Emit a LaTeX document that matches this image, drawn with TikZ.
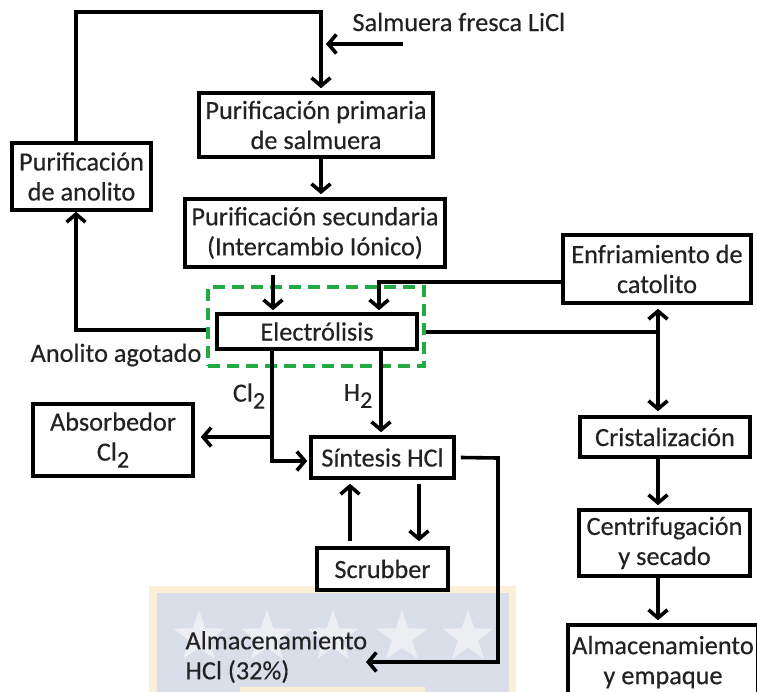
\documentclass[tikz,border=0pt]{standalone}
\usepackage{fontspec}
\setmainfont{Carlito}[FakeBold=0.35]
\usetikzlibrary{arrows.meta,shapes.geometric}
\definecolor{txt}{HTML}{222222}
\definecolor{wmorange}{HTML}{FCEFD8}
\definecolor{wmblue}{HTML}{D9DEE8}
\definecolor{wmstar}{HTML}{ECEEF1}
\definecolor{gdash}{HTML}{22AA44}
\newcommand{\subtwo}{\raisebox{-7pt}{\fontsize{24}{24}\selectfont 2}}
\begin{document}
\begin{tikzpicture}[x=1pt,y=-1pt,
  every node/.style={font=\fontsize{26.3}{30}\selectfont, text=txt},
  box/.style={draw=black, line width=3.6pt, inner sep=0pt, align=center, fill=white},
  arr/.style={line width=3.6pt, -{Straight Barb[length=8pt,width=19pt,line width=3.6pt]}},
  ln/.style={line width=3.6pt},
  gbox/.style={draw=gdash, line width=4pt, dash pattern=on 12pt off 7pt, inner sep=0pt},
  wmstarstyle/.style={star, star points=5, star point ratio=2.5, fill=wmstar, draw=none, minimum size=54pt, inner sep=0pt}
]
\useasboundingbox (0,0) rectangle (757,692);
% watermark
\fill[wmorange] (149,586) rectangle (516,700);
\fill[wmblue] (157,593) rectangle (509,700);
\fill[wmorange] (240,687) rectangle (425,700);
\foreach \sx/\nm in {199/s1,267/s2,333/s3,402/s4,468/s5}
  \node[wmstarstyle] (\nm) at (\sx,637) {};

% green dashed region
\node[gbox, minimum width=216pt, minimum height=79pt] (gbox) at (316,326.5) {};

% boxes
\node[box, minimum width=234pt, minimum height=64pt] (prim) at (316,125) {Purificación primaria\\de salmuera};
\node[box, minimum width=260pt, minimum height=68pt] (sec) at (315,233) {Purificación secundaria\\(Intercambio Iónico)};
\node[box, minimum width=139pt, minimum height=67pt] (anol) at (81.5,176.5) {Purificación\\de anolito};
\node[box, minimum width=200pt, minimum height=35pt] (elec) at (317,331.5) {Electrólisis};
\node[box, minimum width=188pt, minimum height=68pt] (enf) at (657,269) {Enfriamiento de\\catolito};
\node[box, minimum width=170pt, minimum height=40pt] (crist) at (665,437) {Cristalización};
\node[box, minimum width=171pt, minimum height=66pt] (centr) at (664.5,543) {Centrifugación\\y secado};
\node[box, minimum width=190pt, minimum height=70pt, text depth=0pt] (almE) at (663,660) {Almacenamiento\\y empaque};
\node[box, minimum width=160pt, minimum height=72pt] (abs) at (113,440) {Absorbedor\\Cl\subtwo};
\node[box, minimum width=143pt, minimum height=41pt] (sint) at (382.5,457.5) {Síntesis HCl};
\node[box, minimum width=131pt, minimum height=42pt] (scr) at (382.5,569) {Scrubber};

% free texts
\node[anchor=west] (salm) at (349,22) {Salmuera fresca LiCl};
\node (agot) at (116,355) {Anolito agotado};
\node[anchor=west, align=left] (almH) at (182,657) {Almacenamiento\\HCl (32\%)};
\node (cl2) at (249,396) {Cl\subtwo};
\node (h2) at (358,396) {H\subtwo};

% coordinates
\coordinate (sIn) at (403,44);
\coordinate (sTip) at (326,44);
\coordinate (loopC) at (200,12);
\coordinate (junc) at (658,332);
\coordinate (clj) at (272,437);
\coordinate (hc1) at (498,458);
\coordinate (hc2) at (498,662);
\coordinate (hclIn) at (366,662);

% connectors
\draw[arr] (sIn) -- (sTip);
\draw[arr] ([xshift=-5.5pt]anol.north) |- (loopC) -| ([xshift=5pt,yshift=3pt]prim.north);
\draw[arr] ([xshift=5pt]prim.south) -- ([xshift=6pt,yshift=3pt]sec.north);
\draw[arr] ([xshift=-42pt,yshift=-6pt]sec.south) -- ([xshift=-44pt,yshift=2pt]elec.north);
\draw[arr] ([yshift=-13pt]enf.west) -| ([xshift=62pt,yshift=2pt]elec.north);
\draw[arr] ([xshift=-9pt,yshift=1.5pt]elec.west) -| ([xshift=-5.5pt]anol.south);
\draw[ln] ([xshift=7pt,yshift=-0.5pt]elec.east) -- (junc);
\draw[arr] (junc) -- ([xshift=1pt,yshift=-4pt]enf.south);
\draw[arr] (junc) -- ([xshift=-7pt,yshift=4pt]crist.north);
\draw[arr] ([xshift=-7pt]crist.south) -- ([xshift=-6.5pt,yshift=3pt]centr.north);
\draw[arr] ([xshift=-6.5pt]centr.south) -- ([xshift=-5pt,yshift=3pt]almE.north);
\draw[ln] ([xshift=-45pt]elec.south) -- (clj);
\draw[arr] (clj) -- ([xshift=6pt]clj -| abs.east);
\draw[arr] (clj) |- ([xshift=-2pt,yshift=-3.5pt]sint.west);
\draw[arr] ([xshift=64pt]elec.south) -- ([xshift=-1.5pt,yshift=3pt]sint.north);
\draw[arr] ([xshift=-32.5pt,yshift=5pt]scr.north) -- ([xshift=-32.5pt,yshift=-4pt]sint.south);
\draw[arr] ([xshift=36.5pt,yshift=-4pt]sint.south) -- ([xshift=36.5pt,yshift=5pt]scr.north);
\draw[arr] ([xshift=5pt]sint.east) -- (hc1) -- (hc2) -- (hclIn);
\end{tikzpicture}
\end{document}
